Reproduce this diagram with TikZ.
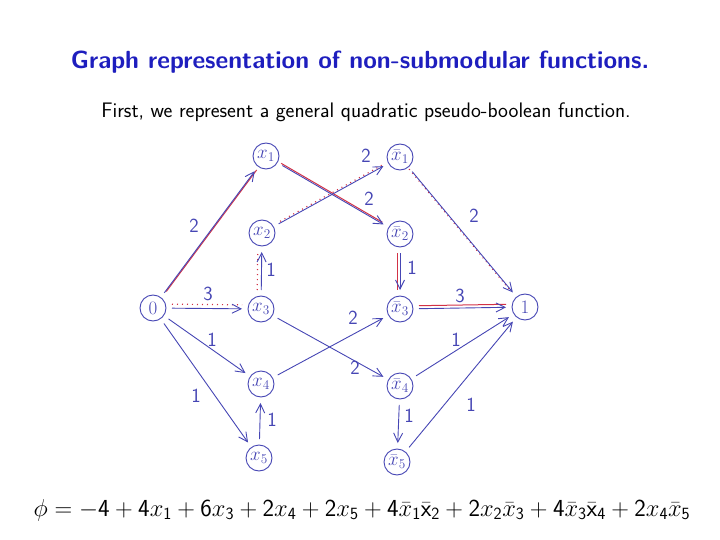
\RequirePackage{fix-cm}
\documentclass[tikz,border=0pt]{standalone}
\usetikzlibrary{arrows.meta}
\definecolor{titleblue}{RGB}{30,30,190}
\definecolor{penblue}{RGB}{70,70,180}
\definecolor{penred}{RGB}{210,50,70}
\newcommand\sd[1]{\mathsf{#1}}
\begin{document}
\begin{tikzpicture}[x=1pt,y=-1pt,
  vnode/.style={circle,draw=penblue,line width=0.9pt,minimum size=26pt,inner sep=0pt,outer sep=6pt,text=penblue,font=\fontsize{19}{19}\selectfont},
  edge/.style={draw=penblue,line width=0.9pt,-{Straight Barb[length=9pt,width=9pt,line width=0.9pt]}},
  redline/.style={draw=penred,line width=1pt},
  reddot/.style={draw=penred,line width=1.2pt,dash pattern=on 1pt off 4pt},
  lab/.style={text=penblue,font=\sffamily\fontsize{20}{20}\selectfont,inner sep=0pt}]
\useasboundingbox (0,0) rectangle (720,540);
\node[font=\sffamily\bfseries\fontsize{24.8}{28}\selectfont,text=titleblue] (title) at (360,62) {Graph representation of non-submodular functions.};
\node[font=\sffamily\fontsize{21}{24}\selectfont] (sub) at (366,112) {First, we represent a general quadratic pseudo-boolean function.};
% nodes
\node[vnode] (n0) at (153,308) {$0$};
\node[vnode] (n1) at (525,307) {$1$};
\node[vnode] (x1) at (266,156) {$x_1$};
\node[vnode] (bx1) at (400,157) {$\bar x_1$};
\node[vnode] (x2) at (262,233) {$x_2$};
\node[vnode] (bx2) at (400,234) {$\bar x_2$};
\node[vnode] (x3) at (261,309) {$x_3$};
\node[vnode] (bx3) at (400,309) {$\bar x_3$};
\node[vnode] (x4) at (261,384) {$x_4$};
\node[vnode] (bx4) at (400,386) {$\bar x_4$};
\node[vnode] (x5) at (259,458) {$x_5$};
\node[vnode] (bx5) at (397,462) {$\bar x_5$};
% red companions
\draw[redline,transform canvas={shift={(2pt,1.3pt)}}] (n0) -- (x1);
\draw[redline,transform canvas={shift={(-1.2pt,2.2pt)}}] (x1) -- (bx2);
\draw[reddot,transform canvas={shift={(1.5pt,2.5pt)}}] (x2) -- (bx1);
\draw[reddot,transform canvas={shift={(0pt,4pt)}}] (n0) -- (x3);
\draw[reddot,transform canvas={shift={(-4pt,0pt)}}] (x3) -- (x2);
\draw[redline,transform canvas={shift={(-3pt,0pt)}}] (bx2) -- (bx3);
\draw[reddot,transform canvas={shift={(-3pt,2.5pt)}}] (bx1) -- (n1);
\draw[redline,transform canvas={shift={(0pt,3pt)}}] (bx3) -- (n1);
% blue edges
\draw[edge] (n0) -- (x1);
\draw[edge] (x1) -- (bx2);
\draw[edge] (x2) -- (bx1);
\draw[edge] (n0) -- (x3);
\draw[edge] (x3) -- (x2);
\draw[edge] (bx2) -- (bx3);
\draw[edge] (bx1) -- (n1);
\draw[edge] (bx3) -- (n1);
\draw[edge] (x3) -- (bx4);
\draw[edge] (x4) -- (bx3);
\draw[edge] (n0) -- (x4);
\draw[edge] (n0) -- (x5);
\draw[edge] (x5) -- (x4);
\draw[edge] (bx4) -- (n1);
\draw[edge] (bx4) -- (bx5);
\draw[edge] (bx5) -- (n1);
% edge labels
\node[lab] (l01) at (194,226) {2};
\node[lab] (l1b2) at (369,199) {2};
\node[lab] (l2b1) at (366,156) {2};
\node[lab] (l03) at (208,294) {3};
\node[lab] (l32) at (271,270) {1};
\node[lab] (lb2b3) at (412,268) {1};
\node[lab] (lb11) at (474,216) {2};
\node[lab] (lb31) at (460,296) {3};
\node[lab] (l3b4) at (355,368) {2};
\node[lab] (l4b3) at (353,318) {2};
\node[lab] (l04) at (212,340) {1};
\node[lab] (l05) at (196,396) {1};
\node[lab] (l54) at (272,420) {1};
\node[lab] (lb41) at (456,340) {1};
\node[lab] (lb4b5) at (409,416) {1};
\node[lab] (lb51) at (471,405) {1};
% formula
\node[font=\fontsize{24.5}{28}\selectfont] (phi) at (362,510) {$\phi = -\sd4 + \sd4 x_{\sd1} + \sd6 x_{\sd3} + \sd2 x_{\sd4} + \sd2 x_{\sd5} + \sd4\bar x_{\sd1}\bar{\mathsf{x}}_{\sd2} + \sd2 x_{\sd2}\bar x_{\sd3} + \sd4\bar x_{\sd3}\bar{\mathsf{x}}_{\sd4} + \sd2 x_{\sd4}\bar x_{\sd5}$};
\end{tikzpicture}
\end{document}
